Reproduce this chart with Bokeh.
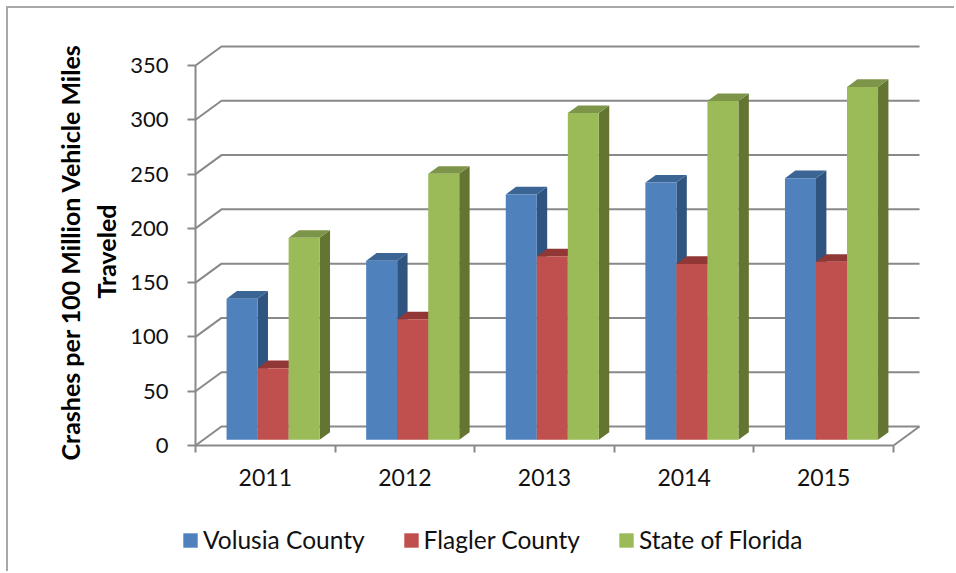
from bokeh.plotting import figure
from bokeh.models import (Range1d, FixedTicker, Legend, LegendItem, Title)
from bokeh.embed import file_html
from bokeh.resources import INLINE

years = ["2011", "2012", "2013", "2014", "2015"]
volusia = [130, 165, 226, 237, 241]
flagler = [66, 111, 169, 162, 164]
florida = [186, 245, 301, 312, 325]
y_ticks = [0, 50, 100, 150, 200, 250, 300, 350]
series = [
    ("Volusia County", volusia, "#4F81BD", "#2F5480", "#3B6595"),
    ("Flagler County", flagler, "#C0504D", "#7F2F2D", "#913735"),
    ("State of Florida", florida, "#9BBB59", "#647532", "#7C9548"),
]
title_lines = ["Crashes per 100 Million Vehicle Miles", "Traveled"]

FONT = "Lato"
GRAY = "#898989"
cat_px = 139.6
val_px = 380 / 350

# plot frame in page pixels; the axes cross inside it
fl, fr, ft, fb = 125, 925, 40, 573
ax_x, ax_y = 195, 445

# 3-D depth of the box, in data units
wall_dx = 26 / cat_px
wall_dy = 19 / val_px
bar_w = 1 / 4.5
gap = 0.75 * bar_w

p = figure(frame_width=fr - fl, frame_height=fb - ft, output_backend="svg", toolbar_location=None,
           x_range=Range1d(-(ax_x - fl) / cat_px, (fr - ax_x) / cat_px),
           y_range=Range1d(-(fb - ax_y) / val_px, (ax_y - ft) / val_px),
           min_border_left=fl - 8, min_border_right=31, min_border_top=ft - 8, min_border_bottom=0,
           border_fill_color="white", background_fill_color="white",
           margin=(8, 0, 0, 8), styles={"box-shadow": "-2px -2px 0 0 #A8A8A8"})
p.outline_line_color = None
p.grid.visible = False

# walls and floor
gx, gy = [], []
for t in y_ticks:
    gx.append([0, wall_dx, 5 + wall_dx])
    gy.append([t, t + wall_dy, t + wall_dy])
gx.append([5, 5 + wall_dx])
gy.append([0, wall_dy])
p.multi_line(gx, gy, line_color=GRAY, line_width=2)

# bars
legend_items = []
for s, (name, vals, front, side, top) in enumerate(series):
    x0 = [i + gap + s * bar_w + 0.3 * wall_dx for i in range(len(years))]
    x1 = [x + bar_w for x in x0]
    base = 0.3 * wall_dy
    tops = [v + base for v in vals]
    d_x, d_y = 0.4 * wall_dx, 0.4 * wall_dy
    p.patches([[b, b + d_x, b + d_x, b] for b in x1],
              [[base, base + d_y, v + d_y, v] for v in tops],
              fill_color=side, line_color=None)
    p.patches([[a, a + d_x, b + d_x, b] for a, b in zip(x0, x1)],
              [[v, v + d_y, v + d_y, v] for v in tops],
              fill_color=top, line_color=None)
    r = p.quad(left=x0, right=x1, bottom=base, top=tops, fill_color=front, line_color=None)
    legend_items.append(LegendItem(label=name, renderers=[r]))

# axes
ya = p.yaxis[0]
ya.fixed_location = 0
ya.ticker = FixedTicker(ticks=y_ticks)
ya.bounds = (0, 350)
ya.axis_line_color = GRAY
ya.axis_line_width = 2
ya.major_tick_line_color = GRAY
ya.major_tick_line_width = 2
ya.major_tick_out = 8
ya.major_tick_in = 0
ya.minor_tick_out = 0
ya.minor_tick_in = 0
ya.major_label_standoff = 19
ya.major_label_text_font = FONT
ya.major_label_text_font_size = "22px"
ya.major_label_text_color = "#111111"

xa = p.xaxis[0]
xa.fixed_location = 0
xa.ticker = FixedTicker(ticks=[i + 0.5 for i in range(5)], minor_ticks=list(range(6)))
xa.major_label_overrides = {i + 0.5: y for i, y in enumerate(years)}
xa.bounds = (0, 5)
xa.axis_line_color = GRAY
xa.axis_line_width = 2
xa.major_tick_out = 0
xa.major_tick_in = 0
xa.minor_tick_out = 7
xa.minor_tick_in = 0
xa.minor_tick_line_color = GRAY
xa.minor_tick_line_width = 2
xa.major_label_standoff = 16
xa.major_label_text_font = FONT
xa.major_label_text_font_size = "23px"
xa.major_label_text_color = "#111111"

# axis title: the line next to the axis first, the outer line after it
for line, stand, off in zip(reversed(title_lines), (9, 0), (275, 113)):
    p.add_layout(Title(text=line, align="left", offset=off, standoff=stand,
                       text_font=FONT, text_font_style="bold", text_font_size="25px",
                       text_color="#000000"), "left")

# legend
lg = Legend(items=legend_items, orientation="horizontal", location=(56, 19),
            glyph_width=18, glyph_height=18, label_standoff=4, spacing=37,
            padding=0, margin=0, border_line_color=None, background_fill_alpha=0,
            label_text_font=FONT, label_text_font_size="24.5px", label_text_color="#111111")
p.add_layout(lg, "center")

open("out.html", "w").write(file_html(p, INLINE))
